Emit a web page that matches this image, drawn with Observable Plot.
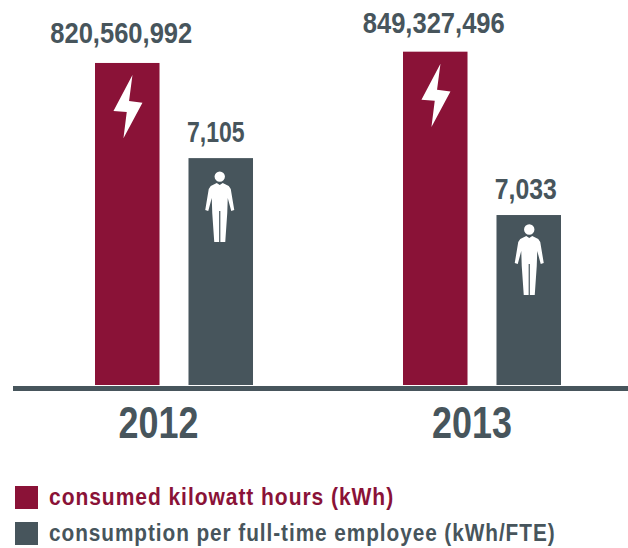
<!DOCTYPE html>
<html><head><meta charset="utf-8">
<script src="https://cdn.jsdelivr.net/npm/d3@7"></script>
<script src="https://cdn.jsdelivr.net/npm/@observablehq/plot@0.6"></script>
<style>
html,body{margin:0;padding:0;background:#fff;overflow:hidden}
#chart{position:relative;width:628px;height:468px}
#chart svg{position:absolute;left:0;top:0;background:transparent}
#legend{position:absolute;left:15px;top:486px;font-family:"Liberation Sans",sans-serif;font-weight:700;font-size:23.5px;letter-spacing:1.05px;line-height:23px;white-space:nowrap}
.row{display:flex;align-items:center;height:23px;margin-bottom:13px}
.sw{width:23px;height:23px;margin-right:11px;flex:none}
.row span{display:inline-block;transform-origin:left center}
</style></head><body>
<div id="chart"></div>
<div id="legend"></div>
<script>
const years = ["2012", "2013"];
const seriesNames = ["consumed kilowatt hours (kWh)", "consumption per full-time employee (kWh/FTE)"];
const kWh = [820560992, 849327496];
const kWhPerFTE = [7105, 7033];
const colors = ["#8a1237", "#47555c"];
const font = '"Liberation Sans",sans-serif';

const kWhRows = years.map((year, i) => ({year, series: seriesNames[0], value: kWh[i]}));
const fteRows = years.map((year, i) => ({year, series: seriesNames[1], value: kWhPerFTE[i]}));

const bolt = {draw(c) {
  c.moveTo(4.7,-32); c.lineTo(-14.3,4); c.lineTo(-1,5); c.lineTo(-4.3,31.3);
  c.lineTo(14.7,-4.3); c.lineTo(1.3,-6); c.closePath();
}};
const person = {draw(c) {
  c.moveTo(5.2,-30.5); c.arc(0,-30.5,5.2,0,2*Math.PI); c.closePath();
  const p = [[-3,-24],[-9,-21],[-11,-18],[-14.5,3],[-11.5,4],[-8,-9],[-7.5,6],[-5.5,35],[-0.6,35],[-0.6,4],
             [0.6,4],[0.6,35],[5.5,35],[7.5,6],[8,-9],[11.5,4],[14.5,3],[11,-18],[9,-21],[3,-24],[0,-22]];
  p.forEach(([x,y],i) => i ? c.lineTo(x,y) : c.moveTo(x,y)); c.closePath();
}};

const dims = {width: 628, height: 468, marginTop: 0, marginBottom: 83, marginLeft: 13, marginRight: 0, style: {background: "transparent"}};
const shared = {
  ...dims,
  fx: {domain: years, range: [95, 561], paddingInner: 0.487, paddingOuter: 0, round: false, label: null, axis: null},
  x: {domain: seriesNames, paddingInner: 0.31, paddingOuter: 0, round: false, axis: null}
};
const label = (rows, dx, dy) => Plot.text(rows, {
  fx: "year", x: "series", y: "value", text: d => d3.format(",")(d.value),
  dx, dy, fill: colors[1], fontFamily: font, fontWeight: 700, fontSize: 29.5,
  textAnchor: "middle", lineAnchor: "bottom"
});
const yearLabel = (rows, dx) => Plot.text(rows, {
  fx: "year", text: "year", frameAnchor: "bottom", lineAnchor: "top", dx, dy: 21,
  fontSize: 44, fontWeight: 700, fontFamily: font, fill: colors[1]
});
const personDot = (rows, dx, dy) => Plot.dot(rows, {
  fx: "year", x: "series", y: "value", dx, dy, symbol: () => person, fill: "#fff", stroke: "none", r: 5
});

const baseline = Plot.plot({
  ...dims,
  y: {domain: [0, 981000000], range: [385, 0], axis: null},
  marks: [Plot.ruleY([0], {stroke: colors[1], strokeWidth: 5, dy: 3})]
});
const kWhPlot = Plot.plot({
  ...shared,
  y: {domain: [0, 981000000], range: [385, 0], axis: null},
  marks: [
    Plot.barY(kWhRows, {fx: "year", x: "series", y: "value", fill: colors[0]}),
    Plot.dot(kWhRows, {fx: "year", x: "series", y: "value", dy: 43.5, symbol: () => bolt, fill: "#fff", stroke: "none", r: 5}),
    label(kWhRows.slice(0, 1), -6.5, -20),
    label(kWhRows.slice(1), -2, -19),
    yearLabel(kWhRows.slice(0, 1), -16),
    yearLabel(kWhRows.slice(1), -10.5)
  ]
});
const ftePlot = Plot.plot({
  ...shared,
  y: {domain: [6818, 7305], range: [385, 0], axis: null},
  marks: [
    Plot.barY(fteRows, {fx: "year", x: "series", y1: 6818, y2: "value", fill: colors[1]}),
    personDot(fteRows.slice(0, 1), -1.5, 48.5),
    personDot(fteRows.slice(1), 0, 44.5),
    label(fteRows.slice(0, 1), -5.5, -16.5),
    label(fteRows.slice(1), -3.5, -16.5)
  ]
});
document.getElementById("chart").append(baseline, kWhPlot, ftePlot);

// The reference uses a condensed face: squeeze the real text to the same widths.
const squeeze = {"2012": 0.816, "2013": 0.816, "7,105": 0.78, "7,033": 0.84};
document.querySelectorAll("#chart svg text").forEach(t => {
  const factor = squeeze[t.textContent.trim()] ?? 0.866;
  t.setAttribute("textLength", t.getComputedTextLength() * factor);
  t.setAttribute("lengthAdjust", "spacingAndGlyphs");
});

const legend = document.getElementById("legend");
const legendSqueeze = [0.895, 0.885];
seriesNames.forEach((name, i) => {
  const row = document.createElement("div"); row.className = "row";
  const sw = document.createElement("div"); sw.className = "sw"; sw.style.background = colors[i];
  const t = document.createElement("span"); t.textContent = name; t.style.color = colors[i];
  t.style.transform = `scaleX(${legendSqueeze[i]})`;
  row.append(sw, t); legend.append(row);
});
</script>
</body></html>
